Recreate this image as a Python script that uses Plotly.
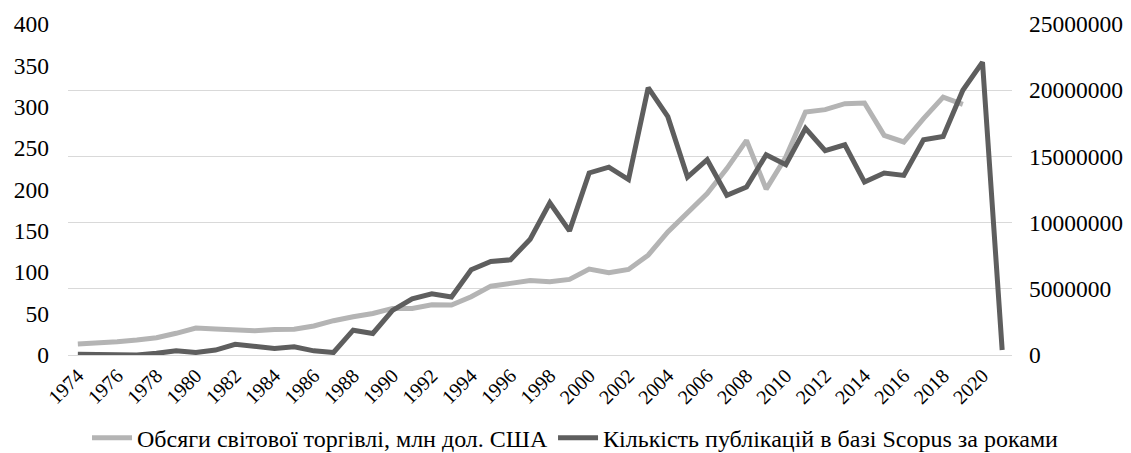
import plotly.graph_objects as go

years = list(range(1974, 2022))

# Обсяги світової торгівлі, млн дол. США (right axis)
trade = [830000, 880000, 1000000, 1130000, 1300000, 1640000, 2040000, 1960000,
         1880000, 1830000, 1920000, 1940000, 2190000, 2590000, 2890000, 3140000,
         3520000, 3520000, 3790000, 3770000, 4400000, 5200000, 5410000, 5620000,
         5540000, 5710000, 6490000, 6210000, 6460000, 7540000, 9300000, 10690000,
         12190000, 14080000, 16210000, 12530000, 14950000, 18350000, 18530000,
         18980000, 19030000, 16590000, 16090000, 17850000, 19480000, 18930000]
trade_years = years[:len(trade)]

# Кількість публікацій в базі Scopus за роками (left axis)
pubs = [1, 1, 0, 0, 2, 5, 3, 6, 13, 10, 8, 10, 5, 3, 30, 26, 54, 68, 74, 70,
        103, 113, 115, 140, 184, 150, 220, 227, 212, 323, 288, 215, 236, 193,
        203, 242, 230, 274, 247, 254, 209, 220, 217, 260, 264, 320, 354, 6]

name_trade = "Обсяги світової торгівлі, млн дол. США"
name_pubs = "Кількість публікацій в базі Scopus за роками"

FONT = "Times New Roman, Liberation Serif, DejaVu Serif, serif"
FS_Y = 23.5
FS_X = 20
FS_L = 24

fig = go.Figure()
fig.add_trace(go.Scatter(x=trade_years, y=trade, name=name_trade, mode="lines",
                         line=dict(color="#B4B4B4", width=5), yaxis="y"))
fig.add_trace(go.Scatter(x=years, y=pubs, name=name_pubs, mode="lines",
                         line=dict(color="#5E5E5E", width=5), yaxis="y2"))

# page body adds an 8px offset, so the figure is sized to fit inside the window
fig.update_layout(
    width=1123, height=445,
    margin=dict(l=60, r=119, t=16, b=98, autoexpand=False),
    paper_bgcolor="white", plot_bgcolor="white",
    font=dict(family=FONT, size=FS_Y, color="#000000"),
    showlegend=True,
    legend=dict(orientation="h", x=1.0551, xref="paper", xanchor="right",
                y=-0.251, yref="paper", yanchor="middle",
                font=dict(family=FONT, size=FS_L), itemwidth=40,
                tracegroupgap=0, bgcolor="rgba(0,0,0,0)"),
    xaxis=dict(range=[1973.5, 2021.5], tickmode="linear", tick0=1974, dtick=2,
               tickangle=-45, showgrid=False, zeroline=False, automargin=False,
               showline=True, linecolor="#D9D9D9", linewidth=1,
               ticks="", tickfont=dict(family=FONT, size=FS_X)),
    yaxis=dict(side="right", range=[0, 25000000], tickmode="linear", tick0=0,
               dtick=5000000, tickformat="d", showgrid=True, automargin=False,
               gridcolor="#D9D9D9", gridwidth=1, zeroline=False,
               showline=False, ticks="", ticklabelstandoff=16,
               tickfont=dict(family=FONT, size=FS_Y)),
    yaxis2=dict(side="left", overlaying="y", range=[0, 400], tickmode="linear",
                tick0=0, dtick=50, showgrid=False, zeroline=False,
                automargin=False,
                showline=False, ticks="", ticklabelstandoff=18,
                tickfont=dict(family=FONT, size=FS_Y)),
)

fig.write_html("out.html")
